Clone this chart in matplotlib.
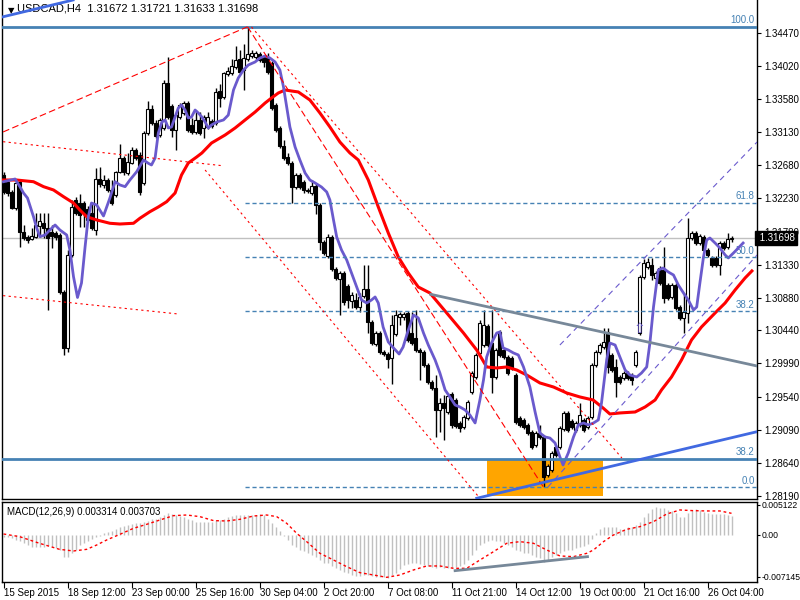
import numpy as np
import matplotlib.pyplot as plt
import matplotlib.transforms as mtransforms

plt.rcParams['font.family'] = ['Liberation Sans', 'DejaVu Sans']

# USDCAD H4 bars (15 Sep 2015 - 26 Oct 2015)
opens = [1.32547, 1.32452, 1.32317, 1.32099, 1.32452, 1.31774, 1.31706, 1.31679, 1.31706, 1.31856,
         1.31896, 1.31828, 1.31774, 1.31760, 1.31733, 1.30960, 1.30199, 1.31462, 1.32208, 1.32167,
         1.32167, 1.32086, 1.32031, 1.31801, 1.32493, 1.32411, 1.32479, 1.32344, 1.32276, 1.32588,
         1.32778, 1.32574, 1.32710, 1.32887, 1.32819, 1.32438, 1.33117, 1.33443, 1.33253, 1.33090,
         1.33185, 1.33795, 1.33484, 1.33158, 1.33334, 1.33389, 1.33524, 1.33226, 1.33131, 1.33294,
         1.33185, 1.33199, 1.33280, 1.33253, 1.33687, 1.33606, 1.33918, 1.33931, 1.34013, 1.34122,
         1.33972, 1.34122, 1.34162, 1.34149, 1.34190, 1.34149, 1.34149, 1.34067, 1.33497, 1.33185,
         1.32941, 1.32792, 1.32710, 1.32384, 1.32547, 1.32452, 1.32330, 1.32303, 1.32398, 1.32140,
         1.31638, 1.31448, 1.31706, 1.31272, 1.31136, 1.31217, 1.31041, 1.30837, 1.30851, 1.30756,
         1.30905, 1.31000, 1.30552, 1.30253, 1.30403, 1.30145, 1.30118, 1.30064, 1.30389, 1.30620,
         1.30620, 1.30674, 1.30403, 1.30335, 1.30172, 1.30145, 1.29969, 1.29738, 1.29657, 1.29358,
         1.29453, 1.29331, 1.29575, 1.29494, 1.29182, 1.29128, 1.29250, 1.29603, 1.29806, 1.30131,
         1.30240, 1.30498, 1.30267, 1.29806, 1.30417, 1.30172, 1.30077, 1.30064, 1.29833, 1.29250,
         1.29223, 1.29155, 1.29060, 1.28883, 1.29046, 1.28992, 1.28476, 1.28544, 1.28856, 1.28856,
         1.29101, 1.29318, 1.29209, 1.29087, 1.29155, 1.29223, 1.29128, 1.29263, 1.29969, 1.30145,
         1.30213, 1.30417, 1.30104, 1.29942, 1.29806, 1.29792, 1.29860, 1.29833, 1.29969, 1.30403,
         1.31163, 1.31299, 1.31326, 1.31149, 1.31285, 1.31258, 1.31055, 1.30892, 1.31055, 1.30756,
         1.30607, 1.30674, 1.31692, 1.31760, 1.31624, 1.31706, 1.31530, 1.31421, 1.31421, 1.31326,
         1.31624, 1.31570, 1.31672]
highs = [1.32588, 1.32479, 1.32344, 1.32465, 1.32479, 1.31869, 1.31733, 1.31828, 1.32031, 1.32031,
         1.32031, 1.32031, 1.31869, 1.31787, 1.31760, 1.30987, 1.31530, 1.32208, 1.32249, 1.32290,
         1.32194, 1.32127, 1.32167, 1.32642, 1.32656, 1.32547, 1.32506, 1.32479, 1.32601, 1.32968,
         1.32805, 1.32846, 1.32928, 1.32914, 1.32860, 1.33144, 1.33551, 1.33497, 1.33294, 1.33321,
         1.33836, 1.34149, 1.33511, 1.33389, 1.33524, 1.33551, 1.33551, 1.33321, 1.33429, 1.33402,
         1.33361, 1.33402, 1.33307, 1.33727, 1.33782, 1.33945, 1.34013, 1.34122, 1.34298, 1.34244,
         1.34325, 1.34560, 1.34244, 1.34230, 1.34217, 1.34176, 1.34203, 1.34094, 1.33524, 1.33212,
         1.33022, 1.32846, 1.32737, 1.32574, 1.32574, 1.32479, 1.32370, 1.32479, 1.32425, 1.32167,
         1.31665, 1.31747, 1.31733, 1.31299, 1.31245, 1.31245, 1.31068, 1.30960, 1.30946, 1.30946,
         1.31326, 1.31326, 1.30580, 1.30430, 1.30430, 1.30172, 1.30145, 1.30647, 1.30715, 1.30688,
         1.30688, 1.30701, 1.30688, 1.30715, 1.30199, 1.30172, 1.29996, 1.29765, 1.29833, 1.29521,
         1.29562, 1.29589, 1.29603, 1.29521, 1.29209, 1.29290, 1.29494, 1.29887, 1.30131, 1.30580,
         1.30715, 1.30525, 1.30715, 1.30199, 1.30444, 1.30199, 1.30104, 1.30091, 1.29860, 1.29277,
         1.29250, 1.29182, 1.29087, 1.29073, 1.29155, 1.29019, 1.28625, 1.28802, 1.28883, 1.29141,
         1.29345, 1.29345, 1.29236, 1.29209, 1.29453, 1.29250, 1.29277, 1.29996, 1.30172, 1.30267,
         1.30471, 1.30471, 1.30131, 1.30050, 1.29833, 1.29887, 1.29887, 1.29860, 1.30172, 1.31190,
         1.31407, 1.31421, 1.31421, 1.31245, 1.31312, 1.31570, 1.31082, 1.31082, 1.31082, 1.30783,
         1.30946, 1.31964, 1.31787, 1.31787, 1.31747, 1.31733, 1.31556, 1.31448, 1.31448, 1.31652,
         1.31652, 1.31760, 1.31721]
lows = [1.32290, 1.32263, 1.32086, 1.32072, 1.31570, 1.31665, 1.31624, 1.31665, 1.31692, 1.31706,
        1.31692, 1.30715, 1.31556, 1.31665, 1.30933, 1.30104, 1.30145, 1.31435, 1.32004, 1.31842,
        1.31842, 1.31910, 1.31801, 1.31733, 1.32384, 1.32370, 1.32317, 1.32140, 1.32249, 1.32574,
        1.32547, 1.32547, 1.32697, 1.32751, 1.32276, 1.32411, 1.33090, 1.33226, 1.33049, 1.33063,
        1.33158, 1.33307, 1.33063, 1.32887, 1.33307, 1.33361, 1.33131, 1.33104, 1.33104, 1.33090,
        1.33049, 1.33172, 1.33185, 1.33226, 1.33470, 1.33579, 1.33890, 1.33904, 1.33986, 1.33918,
        1.33701, 1.34094, 1.34135, 1.34122, 1.34081, 1.34013, 1.33918, 1.33429, 1.33131, 1.32914,
        1.32751, 1.32683, 1.32167, 1.32357, 1.32357, 1.32303, 1.32303, 1.32276, 1.32018, 1.31530,
        1.31462, 1.31421, 1.31245, 1.31122, 1.30647, 1.30783, 1.30742, 1.30742, 1.30729, 1.30688,
        1.30878, 1.30403, 1.30240, 1.30226, 1.30118, 1.30091, 1.29928, 1.29711, 1.30362, 1.30512,
        1.30580, 1.30281, 1.30240, 1.30145, 1.29765, 1.29942, 1.29711, 1.29630, 1.28992, 1.29060,
        1.28951, 1.29304, 1.29114, 1.29114, 1.29060, 1.29101, 1.29223, 1.29575, 1.29779, 1.30104,
        1.30213, 1.30213, 1.29589, 1.29779, 1.30077, 1.30050, 1.29833, 1.29901, 1.29169, 1.29128,
        1.29101, 1.29019, 1.28829, 1.28856, 1.28965, 1.28310, 1.28449, 1.28517, 1.28720, 1.28829,
        1.29073, 1.29060, 1.29101, 1.29060, 1.29128, 1.29060, 1.29101, 1.29236, 1.29942, 1.30118,
        1.30186, 1.29860, 1.29874, 1.29534, 1.29711, 1.29765, 1.29765, 1.29697, 1.29942, 1.30376,
        1.31136, 1.31272, 1.31122, 1.31122, 1.31055, 1.30810, 1.30851, 1.30864, 1.30715, 1.30580,
        1.30403, 1.30539, 1.31665, 1.31597, 1.31597, 1.31503, 1.31435, 1.31299, 1.31299, 1.31190,
        1.31530, 1.31543, 1.31633]
closes = [1.32317, 1.32303, 1.32099, 1.32438, 1.31774, 1.31692, 1.31665, 1.31720, 1.31869, 1.31923,
          1.31828, 1.31692, 1.31720, 1.31706, 1.30960, 1.30199, 1.31462, 1.32113, 1.32031, 1.32004,
          1.32031, 1.31937, 1.31828, 1.32493, 1.32425, 1.32479, 1.32344, 1.32167, 1.32588, 1.32778,
          1.32588, 1.32724, 1.32887, 1.32778, 1.32317, 1.33117, 1.33443, 1.33253, 1.33076, 1.33294,
          1.33795, 1.33334, 1.33158, 1.33361, 1.33497, 1.33524, 1.33158, 1.33131, 1.33294, 1.33117,
          1.33334, 1.33334, 1.33212, 1.33674, 1.33592, 1.33931, 1.33958, 1.34026, 1.34108, 1.33945,
          1.34135, 1.34190, 1.34203, 1.34203, 1.34108, 1.34081, 1.33945, 1.33456, 1.33158, 1.32941,
          1.32778, 1.32710, 1.32384, 1.32547, 1.32384, 1.32344, 1.32344, 1.32398, 1.32140, 1.31638,
          1.31489, 1.31706, 1.31272, 1.31149, 1.31217, 1.30824, 1.30851, 1.30919, 1.30756, 1.30892,
          1.31000, 1.30552, 1.30267, 1.30403, 1.30145, 1.30118, 1.30050, 1.30512, 1.30647, 1.30661,
          1.30661, 1.30308, 1.30267, 1.30172, 1.30145, 1.29969, 1.29738, 1.29657, 1.29358, 1.29453,
          1.29385, 1.29548, 1.29155, 1.29141, 1.29114, 1.29263, 1.29467, 1.29860, 1.30104, 1.30539,
          1.30512, 1.30240, 1.29806, 1.30172, 1.30104, 1.30077, 1.29860, 1.29928, 1.29196, 1.29155,
          1.29128, 1.29046, 1.28856, 1.29046, 1.28992, 1.28449, 1.28598, 1.28775, 1.28747, 1.29114,
          1.29318, 1.29087, 1.29128, 1.29182, 1.29290, 1.29087, 1.29250, 1.29969, 1.30145, 1.30240,
          1.30281, 1.29942, 1.29901, 1.29738, 1.29738, 1.29860, 1.29792, 1.29765, 1.30145, 1.31163,
          1.31353, 1.31367, 1.31190, 1.31217, 1.31082, 1.30878, 1.30878, 1.31055, 1.30742, 1.30607,
          1.30688, 1.31692, 1.31760, 1.31624, 1.31720, 1.31530, 1.31462, 1.31326, 1.31326, 1.31624,
          1.31556, 1.31679, 1.31698]

# fast (purple) and slow (red) moving averages, read as (bar, price)
fast_ma_bar = [0, 2.9, 4.1, 5, 6, 7.5, 8.3, 9.1, 10.4, 11.6, 12.9, 14.1, 15.8, 16.6, 17.5, 18.5, 19.5, 20.4,
               21.2, 22, 23.3, 25, 26.6, 27.9, 29.1, 30.4, 31.6, 33.3, 35, 36.2, 37, 37.9, 38.7, 39.6, 40.4,
               41.2, 42, 42.9, 43.7, 44.5, 45.4, 46.2, 47, 47.9, 48.7, 49.6, 50.4, 51.2, 52, 53.3, 55, 56.2,
               57.5, 58.7, 60, 61.2, 62.9, 64.1, 65.4, 66.6, 67.9, 69.1, 70, 70.8, 71.6, 72.9, 74.1, 75.4,
               76.6, 77.9, 79.5, 80.8, 81.6, 82.5, 83.3, 84.5, 85.8, 87, 88.3, 89.5, 90.8, 92, 92.9, 93.7,
               94.9, 96.2, 97.5, 98.9, 99.9, 101.2, 102.5, 103.7, 105, 106.2, 107.9, 109.1, 110.4, 111.6,
               112.9, 114.1, 115.4, 116.6, 117.9, 119.1, 120, 120.8, 122, 123.3, 124.1, 124.9, 126.2, 127.5,
               128.7, 130, 131.6, 132.9, 134.1, 135.4, 136.6, 137.9, 139.1, 139.9, 141.2, 142.5, 143.7, 145,
               146.2, 147.5, 148.7, 149.5, 150.8, 151.6, 152.9, 154.1, 155.4, 156.6, 158.3, 159.5, 160.8,
               161.6, 162.5, 163.7, 164.9, 166.2, 167.5, 168.7, 170, 171.2, 172.5, 173.3, 174.1, 175, 175.8,
               176.6, 177.9, 179.1, 180.4, 181.2, 182.5, 183.7, 184.9]
fast_ma = [1.32456, 1.32493, 1.32389, 1.32303, 1.32235, 1.31981, 1.31828, 1.31710, 1.31733, 1.31801, 1.31869,
           1.31801, 1.31733, 1.31529, 1.31167, 1.30885, 1.31082, 1.31574, 1.31981, 1.32167, 1.32140, 1.31991,
           1.32235, 1.32456, 1.32412, 1.32389, 1.32479, 1.32592, 1.32751, 1.32706, 1.32683, 1.32778, 1.33117,
           1.33266, 1.33294, 1.33185, 1.33199, 1.33334, 1.33456, 1.33497, 1.33429, 1.33321, 1.33334, 1.33429,
           1.33389, 1.33334, 1.33266, 1.33185, 1.33226, 1.33266, 1.33294, 1.33361, 1.33701, 1.33864, 1.33972,
           1.34040, 1.34081, 1.34135, 1.34162, 1.34135, 1.34081, 1.33972, 1.33741, 1.33470, 1.33199, 1.32927,
           1.32751, 1.32574, 1.32479, 1.32439, 1.32384, 1.32317, 1.32208, 1.31937, 1.31706, 1.31530, 1.31394,
           1.31217, 1.31027, 1.30851, 1.30810, 1.30851, 1.30892, 1.30810, 1.30485, 1.30281, 1.30200, 1.30118,
           1.30213, 1.30444, 1.30647, 1.30607, 1.30403, 1.30240, 1.30037, 1.29860, 1.29630, 1.29535, 1.29426,
           1.29399, 1.29358, 1.29290, 1.29182, 1.29494, 1.29765, 1.30078, 1.30267, 1.30403, 1.30417, 1.30200,
           1.30172, 1.30132, 1.30105, 1.29942, 1.29670, 1.29331, 1.29046, 1.28992, 1.28978, 1.28910, 1.28721,
           1.28612, 1.28775, 1.28992, 1.29155, 1.29182, 1.29155, 1.29182, 1.29223, 1.29453, 1.30037, 1.30267,
           1.30240, 1.30078, 1.29901, 1.29833, 1.29806, 1.29860, 1.29942, 1.30267, 1.30756, 1.31258, 1.31285,
           1.31231, 1.31190, 1.31055, 1.30946, 1.30851, 1.30715, 1.30756, 1.31082, 1.31435, 1.31665, 1.31692,
           1.31624, 1.31557, 1.31462, 1.31421, 1.31489, 1.31557, 1.31624]
slow_ma_bar = [0, 3.3, 7.5, 10, 12.5, 15, 17.5, 19.1, 20.8, 23.3, 26.6, 29.1, 32.5, 34.1, 36.6, 38.7, 40.8,
               42.9, 44.5, 46.2, 48.3, 49.6, 52, 55.4, 57.9, 60.4, 62.9, 65.4, 67, 68.7, 70.4, 72, 73.7,
               76.6, 79.1, 81.6, 84.1, 86.6, 88.7, 91.2, 93.7, 96.2, 98.7, 101.2, 103.7, 106.6, 110.8, 115,
               118.3, 120.8, 123.3, 125.8, 128.3, 130.8, 134.1, 137.5, 140.8, 144.1, 147.4, 149.9, 151.6,
               154.1, 157.9, 160.4, 162.9, 164.5, 167, 169.5, 172, 174.5, 177.9, 180.4, 182.9, 185.4, 187.1]
slow_ma = [1.32479, 1.32479, 1.32456, 1.32389, 1.32344, 1.32253, 1.32167, 1.32072, 1.31981, 1.31937, 1.31892,
           1.31882, 1.31892, 1.31960, 1.32049, 1.32113, 1.32185, 1.32303, 1.32547, 1.32710, 1.32792, 1.32846,
           1.32981, 1.33090, 1.33185, 1.33294, 1.33402, 1.33524, 1.33592, 1.33660, 1.33701, 1.33687, 1.33674,
           1.33565, 1.33389, 1.33199, 1.32995, 1.32846, 1.32751, 1.32479, 1.32113, 1.31760, 1.31435, 1.31217,
           1.31027, 1.30946, 1.30675, 1.30403, 1.30172, 1.29942, 1.29928, 1.29942, 1.29901, 1.29833, 1.29725,
           1.29670, 1.29589, 1.29535, 1.29494, 1.29385, 1.29304, 1.29318, 1.29331, 1.29399, 1.29494, 1.29630,
           1.29806, 1.30037, 1.30308, 1.30485, 1.30675, 1.30810, 1.30987, 1.31150, 1.31245]

# MACD(12,26,9): main line drawn as histogram + signal
macd_hist = [-0.0003, -0.0004, -0.0006, -0.0009, -0.0011, -0.0014, -0.0017, -0.0020, -0.0020, -0.0020,
             -0.0020, -0.0019, -0.0020, -0.0023, -0.0025, -0.0038, -0.0037, -0.0031, -0.0025, -0.0017,
             -0.0013, -0.0010, -0.0007, -0.0003, -0.0002, 0.0003, 0.0005, 0.0007, 0.0010, 0.0013,
             0.0015, 0.0017, 0.0019, 0.0020, 0.0021, 0.0022, 0.0024, 0.0027, 0.0028, 0.0030,
             0.0034, 0.0037, 0.0036, 0.0034, 0.0032, 0.0030, 0.0028, 0.0026, 0.0023, 0.0022,
             0.0022, 0.0023, 0.0023, 0.0026, 0.0026, 0.0028, 0.0031, 0.0032, 0.0034, 0.0034,
             0.0034, 0.0034, 0.0034, 0.0034, 0.0035, 0.0034, 0.0028, 0.0021, 0.0013, 0.0006,
             -0.0002, -0.0009, -0.0017, -0.0020, -0.0026, -0.0028, -0.0031, -0.0034, -0.0037, -0.0043,
             -0.0047, -0.0048, -0.0053, -0.0057, -0.0060, -0.0063, -0.0065, -0.0068, -0.0070, -0.0070,
             -0.0068, -0.0068, -0.0070, -0.0072, -0.0072, -0.0072, -0.0073, -0.0068, -0.0065, -0.0058,
             -0.0051, -0.0050, -0.0048, -0.0048, -0.0050, -0.0051, -0.0053, -0.0055, -0.0057, -0.0055,
             -0.0057, -0.0057, -0.0057, -0.0055, -0.0053, -0.0050, -0.0043, -0.0034, -0.0026, -0.0017,
             -0.0013, -0.0011, -0.0009, -0.0011, -0.0011, -0.0014, -0.0017, -0.0021, -0.0026, -0.0028,
             -0.0030, -0.0031, -0.0034, -0.0037, -0.0040, -0.0046, -0.0043, -0.0038, -0.0034, -0.0031,
             -0.0028, -0.0026, -0.0025, -0.0023, -0.0021, -0.0019, -0.0015, -0.0007, 0.0004, 0.0011,
             0.0013, 0.0014, 0.0014, 0.0013, 0.0011, 0.0011, 0.0013, 0.0014, 0.0017, 0.0023,
             0.0031, 0.0038, 0.0044, 0.0047, 0.0046, 0.0046, 0.0043, 0.0041, 0.0038, 0.0031,
             0.0030, 0.0037, 0.0043, 0.0044, 0.0043, 0.0040, 0.0037, 0.0036, 0.0036, 0.0036,
             0.0036, 0.0034, 0.0033]
signal_bar = [0, 4, 9, 14, 17.5, 20.8, 23.3, 25.8, 29.1, 32.5, 35.8, 39.1, 42.5, 45.8, 49.1, 52.5, 55.8,
              59.1, 62.5, 65.8, 68.3, 70.8, 73.3, 75.8, 79.1, 82.5, 85.8, 89.1, 92.5, 95.8, 99.1, 102.5,
              105.8, 109.1, 112.5, 115.8, 119.1, 122.5, 125.8, 129.1, 132.5, 135.8, 139.1, 142.5, 145.8,
              147.5, 150, 152.5, 155.8, 159.1, 162.5, 165.8, 169.1, 172.5, 175.8, 179.1, 182]
signal = [0.00017, -0.00028, -0.00142, -0.00245, -0.00273, -0.00245, -0.00171, -0.00085, 0.00011, 0.00114,
          0.00182, 0.00256, 0.00330, 0.00341, 0.00313, 0.00245, 0.00239, 0.00267, 0.00324, 0.00341,
          0.00313, 0.00199, 0.00028, -0.00114, -0.00313, -0.00427, -0.00541, -0.00643, -0.00683, -0.00723,
          -0.00683, -0.00597, -0.00529, -0.00529, -0.00569, -0.00569, -0.00427, -0.00285, -0.00142, -0.00114,
          -0.00142, -0.00256, -0.00358, -0.00370, -0.00313, -0.00256, -0.00114, 0.0, 0.00097, 0.00142,
          0.00228, 0.00358, 0.00427, 0.00415, 0.00410, 0.00410, 0.00370]

time_label_bars = [0, 16, 32, 48, 64, 80, 96, 112, 128, 144, 160, 176]
time_labels = ["15 Sep 2015", "18 Sep 12:00", "23 Sep 00:00", "25 Sep 16:00", "30 Sep 04:00",
               "2 Oct 20:00", "7 Oct 08:00", "11 Oct 21:00", "14 Oct 12:00", "19 Oct 00:00",
               "21 Oct 16:00", "26 Oct 04:00"]
price_ticks = [1.34470, 1.34020, 1.33580, 1.33130, 1.32680, 1.32230, 1.31780, 1.31330, 1.30880,
               1.30440, 1.29990, 1.29540, 1.29090, 1.28640, 1.28190]
macd_ticks = [0.005122, 0.0, -0.007145]
macd_tick_labels = ["0.005122", "0.00", "-0.007145"]
last_price = 1.31698

# drawn objects: (bar, price) anchor pairs
fibo_hi, fibo_lo = 1.34560, 1.28310
fibo_levels = [0.0, 38.2, 50.0, 61.8]
fibo_start = 60.4
fibo_diag = [(61.0, 1.34560), (135.0, 1.28310)]
fibo2_hi, fibo2_lo = 1.34560, 1.25063
fibo2_levels = [38.2, 100.0]
fibo2_diag = [(-0.1, 1.33131), (60.9, 1.34556)]
blue_trend = [(118.3, 1.28160), (188.4, 1.29064)]
blue_trend_top = [(-0.9, 1.34684), (17.4, 1.34922)]
gray_trend = [(106.8, 1.30928), (188.4, 1.29955)]
macd_trend = [(112.9, -0.00609), (146.0, -0.00370)]
red_dotted = [[(-0.1, 1.32999), (54.6, 1.32674)],
              [(-0.1, 1.30910), (43.7, 1.30661)],
              [(62.0, 1.34556), (154.6, 1.28706)],
              [(50.4, 1.32615), (119.1, 1.28160)]]
purple_channel = [[(139.1, 1.30240), (188.4, 1.32995)],
                  [(136.1, 1.28313), (188.4, 1.31462)]]
box_bars = (120.8, 149.8)
box_prices = (1.28191, 1.28694)
arrow_pos = (158.9, 1.30458)

fig = plt.figure(figsize=(8, 6), dpi=100)
ax = fig.add_axes([2.3 / 800, 1 - 498.5 / 600, 755 / 800, 498.5 / 600])
ax2 = fig.add_axes([2.3 / 800, 1 - 581.5 / 600, 755 / 800, 79.8 / 600])

xlim = (-0.3, 188.45)
ax.set_xlim(*xlim)
ax.set_ylim(1.28157, 1.34922)

x = np.arange(len(opens))
o = np.array(opens)
c = np.array(closes)
h = np.array(highs)
l = np.array(lows)
up = c >= o

ax.axhline(last_price, color='#C0C0C0', lw=1, zorder=1)

# orange box (background)
ax.add_patch(plt.Rectangle((box_bars[0], box_prices[0]), box_bars[1] - box_bars[0],
                           box_prices[1] - box_prices[0], facecolor='#FFA500', edgecolor='none', zorder=0.5))

# candles
ax.vlines(x, l, h, color='black', lw=1, zorder=2)
ax.bar(x[up], np.maximum((c - o)[up], 0.00003), bottom=o[up], width=0.55, facecolor='white',
       edgecolor='black', lw=0.8, zorder=3)
ax.bar(x[~up], (o - c)[~up], bottom=c[~up], width=0.55, facecolor='black',
       edgecolor='black', lw=0.8, zorder=3)

# moving averages
ax.plot(slow_ma_bar, slow_ma, color='#FF0000', lw=2.2, zorder=4)
ax.plot(fast_ma_bar, fast_ma, color='#6A5ACD', lw=2, zorder=4)

# fibo levels
fib_col = '#4682B4'
for lv in fibo_levels:
    p = fibo_lo + (fibo_hi - fibo_lo) * lv / 100
    ax.plot([fibo_start, xlim[1]], [p, p], color=fib_col, lw=1, ls=(0, (3, 2)), zorder=5)
    ax.annotate(f"{lv:.1f}", (1, p), xycoords=('axes fraction', 'data'), xytext=(-2, 1),
                textcoords='offset points', ha='right', va='bottom', fontsize=7, color=fib_col)
for lv in fibo2_levels:
    p = fibo2_lo + (fibo2_hi - fibo2_lo) * lv / 100
    ax.axhline(p, color=fib_col, lw=2, zorder=5)
    ax.annotate(f"{lv:.1f}", (1, p), xycoords=('axes fraction', 'data'), xytext=(-2, 1.5),
                textcoords='offset points', ha='right', va='bottom', fontsize=7, color=fib_col)

# trend lines
for seg in (fibo_diag, fibo2_diag):
    ax.plot(*zip(*seg), color='red', lw=0.8, ls=(0, (6, 3)), zorder=5)
for seg in red_dotted:
    ax.plot(*zip(*seg), color='red', lw=0.8, ls=(0, (2, 3)), zorder=5)
for seg in purple_channel:
    ax.plot(*zip(*seg), color='#6A5ACD', lw=0.8, ls=(0, (5, 4)), zorder=5)
ax.plot(*zip(*blue_trend), color='#4169E1', lw=2, zorder=6)
ax.plot(*zip(*blue_trend_top), color='#4169E1', lw=2, zorder=6)
ax.plot(*zip(*gray_trend), color='#778899', lw=2, zorder=6)
ax.text(arrow_pos[0], arrow_pos[1], '\u21e7', color='#6A5ACD', fontsize=10, ha='center', va='center',
        family='DejaVu Sans', zorder=6)

# axes styling
for a in (ax, ax2):
    a.spines['top'].set_visible(a is ax2)
    for s in a.spines.values():
        s.set_linewidth(1)
    a.yaxis.tick_right()
    a.set_xlim(*xlim)

ax.set_yticks(price_ticks)
ax.set_yticklabels([f"{p:.5f}" for p in price_ticks])
ax.tick_params(axis='y', length=3, labelsize=7, pad=2)
ax.set_xticks([])

tr = mtransforms.blended_transform_factory(ax.transAxes, ax.transData)
ax.text(1.0, last_price, ' 1.31698', transform=tr, color='white', fontsize=7, va='center', ha='left',
        bbox=dict(boxstyle='square,pad=0.2', fc='black', ec='black'), zorder=10, clip_on=False)

ax.text(0.008, 0.988, '\u25bc', transform=ax.transAxes, fontsize=6, va='top', ha='left',
        family='DejaVu Sans')
ax.text(0.020, 0.992, 'USDCAD,H4  1.31672 1.31721 1.31633 1.31698', transform=ax.transAxes,
        fontsize=8, va='top', ha='left')

# MACD panel
ax2.set_ylim(-0.00794, 0.00568)
ax2.vlines(x, 0, macd_hist, color='#C0C0C0', lw=1)
ax2.plot(signal_bar, signal, color='red', lw=1, ls=(0, (2, 2)))
ax2.plot(*zip(*macd_trend), color='#778899', lw=2)
ax2.set_yticks(macd_ticks)
ax2.set_yticklabels(macd_tick_labels)
ax2.tick_params(axis='y', length=2, labelsize=6.2, pad=1)
ax2.set_xticks(time_label_bars)
ax2.set_xticklabels(time_labels, ha='left')
ax2.tick_params(axis='x', length=4, labelsize=7, pad=1)
ax2.text(0.006, 0.93, 'MACD(12,26,9) 0.003314 0.003703', transform=ax2.transAxes, fontsize=7,
         va='top', ha='left')

fig.savefig('out.png', dpi=100)
